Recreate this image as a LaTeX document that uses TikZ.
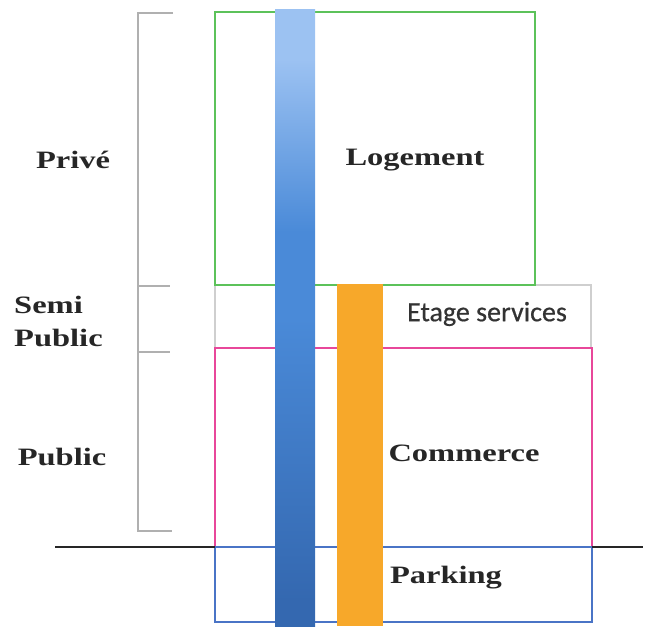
\documentclass[tikz,border=0pt]{standalone}
\usepackage{fontspec}
\newfontfamily\lbl[FakeStretch=1.3]{Liberation Serif}
\newfontfamily\calib[FakeBold=0.6]{Carlito}
\definecolor{logeC}{HTML}{5CC25A}
\definecolor{commC}{HTML}{E8479A}
\definecolor{parkC}{HTML}{4A74C6}
\definecolor{etagC}{HTML}{CFCFCF}
\definecolor{brkC}{HTML}{B0B0B0}
\definecolor{colTop}{HTML}{9CC2F2}
\definecolor{colMid}{HTML}{4A8AD8}
\definecolor{colBot}{HTML}{3468B0}
\definecolor{orangeC}{HTML}{F7A82A}
\pgfdeclareverticalshading{colshade}{100bp}{color(0bp)=(colBot); color(27bp)=(colBot); color(50bp)=(colMid); color(57bp)=(colMid); color(71bp)=(colTop); color(100bp)=(colTop)}
\begin{document}
\begin{tikzpicture}[x=1pt,y=-1pt,
  lab/.style={font=\lbl\bfseries\fontsize{25}{33}\selectfont, inner sep=0, text=black!85},
  zone/.style={draw, line width=2.4pt, inner sep=0, outer sep=0, anchor=north west},
  brk/.style={draw=brkC, line width=1.5pt},
  column/.style={draw=none, inner sep=0, outer sep=0, anchor=north west}]
\useasboundingbox (0,0) rectangle (647,626);
% zones
\node[zone, draw=etagC, line width=1.2pt, minimum width=376pt, minimum height=63pt] (eta) at (215,285) {};
\node[zone, draw=logeC, minimum width=320pt, minimum height=273pt] (log) at (215,12) {};
\node[zone, draw=commC, minimum width=377pt, minimum height=199pt] (com) at (215,348) {};
\node[zone, draw=parkC, minimum width=377pt, minimum height=75pt] (par) at (215,547) {};
% ground line
\coordinate (gl) at (55,547);
\coordinate (gr) at (643,547);
\draw[line width=2.2pt, black!85] (gl) -- (com.south west);
\draw[line width=2.2pt, black!85] (com.south east) -- (gr);
% bracket
\coordinate (b1) at (173,13);
\coordinate (b2) at (138,13);
\coordinate (b3) at (138,531);
\coordinate (b4) at (172,531);
\coordinate (t1) at (138,286);
\coordinate (t1e) at (170,286);
\coordinate (t2) at (138,352);
\coordinate (t2e) at (170,352);
\draw[brk] (b1) -- (b2) -- (b3) -- (b4);
\draw[brk] (t1) -- (t1e);
\draw[brk] (t2) -- (t2e);
% columns
\node[column, shading=colshade, minimum width=40pt, minimum height=616pt] (c1) at (275,10) {};
\node[column, fill=orangeC, minimum width=46pt, minimum height=342pt] (c2) at (337,284) {};
% labels
\node[lab] (tlog) at (415,160) {Logement};
\node[inner sep=0, font=\calib\fontsize{28}{30}\selectfont, text=black!80] (teta) at (487,314) {Etage services};
\node[lab] (tcom) at (464,453) {Commerce};
\node[lab] (tpar) at (446,578) {Parking};
\node[lab] (tpri) at (73,160) {Privé};
\node[lab, anchor=west, align=left] (tsemi) at (14,321) {Semi\\Public};
\node[lab] (tpub) at (62,457) {Public};
\end{tikzpicture}
\end{document}
